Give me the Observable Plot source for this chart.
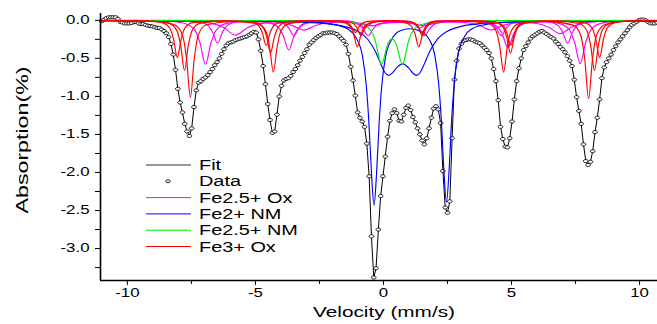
<!DOCTYPE html>
<html><head><meta charset="utf-8">
<script src="https://cdn.jsdelivr.net/npm/d3@7"></script>
<script src="https://cdn.jsdelivr.net/npm/@observablehq/plot@0.6"></script>
<style>
html,body{margin:0;padding:0;background:#fff;}
#chart{width:657px;height:324px;}
</style></head><body><div id="chart"></div>
<script>
// ---- measured spectrum (channels every 0.09 mm/s starting at -11.0 mm/s) ----
const vStart = -11.0, vStep = 0.09;
const absorption = [
-0.01,0.01,0.03,0.04,0.04,0.04,0.04,0.02,-0.02,-0.03,
-0.04,-0.04,-0.04,-0.035,-0.02,-0.02,-0.04,-0.05,-0.05,-0.06,
-0.07,-0.075,-0.08,-0.09,-0.10,-0.10,-0.12,-0.14,-0.17,-0.22,
-0.31,-0.45,-0.65,-0.90,-1.08,-1.21,-1.36,-1.46,-1.52,-1.42,
-1.14,-0.92,-0.82,-0.80,-0.77,-0.75,-0.72,-0.68,-0.64,-0.59,
-0.55,-0.50,-0.44,-0.38,-0.33,-0.30,-0.29,-0.28,-0.26,-0.25,
-0.24,-0.23,-0.22,-0.21,-0.19,-0.17,-0.15,-0.16,-0.25,-0.40,
-0.60,-0.84,-1.10,-1.31,-1.48,-1.46,-1.24,-1.00,-0.86,-0.79,
-0.77,-0.76,-0.73,-0.68,-0.64,-0.59,-0.53,-0.48,-0.43,-0.38,
-0.32,-0.29,-0.26,-0.23,-0.21,-0.19,-0.17,-0.17,-0.16,-0.16,
-0.16,-0.17,-0.18,-0.21,-0.24,-0.27,-0.32,-0.44,-0.61,-0.79,
-0.99,-1.21,-1.28,-1.33,-1.40,-1.62,-2.05,-2.84,-3.38,-3.26,
-2.75,-2.31,-2.05,-1.79,-1.53,-1.32,-1.22,-1.17,-1.22,-1.32,
-1.33,-1.24,-1.15,-1.12,-1.18,-1.27,-1.34,-1.42,-1.50,-1.58,
-1.63,-1.55,-1.42,-1.28,-1.16,-1.13,-1.17,-1.35,-1.98,-2.46,
-2.53,-2.38,-1.55,-0.78,-0.53,-0.37,-0.31,-0.27,-0.26,-0.25,
-0.25,-0.26,-0.28,-0.29,-0.30,-0.33,-0.36,-0.39,-0.43,-0.50,
-0.64,-0.80,-1.05,-1.40,-1.56,-1.66,-1.67,-1.55,-1.33,-1.04,
-0.80,-0.63,-0.50,-0.39,-0.34,-0.29,-0.24,-0.21,-0.19,-0.17,
-0.15,-0.14,-0.16,-0.18,-0.20,-0.22,-0.24,-0.28,-0.31,-0.35,
-0.38,-0.42,-0.47,-0.53,-0.60,-0.78,-1.01,-1.19,-1.36,-1.63,
-1.85,-1.90,-1.86,-1.72,-1.47,-1.28,-1.04,-0.76,-0.62,-0.55,
-0.50,-0.45,-0.39,-0.34,-0.29,-0.25,-0.21,-0.17,-0.13,-0.09,
-0.06,-0.04,-0.02,0.00,0.01,0.01,0.00,-0.02,-0.04,-0.04,
-0.04,-0.03
];

// ---- fitted components, [velocity, absorption] ----
const fe3Ox1 = [[-11.05,-0.003],[-8.74,-0.016],[-8.14,-0.062],[-7.84,-0.204],[-7.69,-0.507],[-7.54,-1.01],[-7.39,-0.507],[-7.24,-0.204],[-6.94,-0.062],[-5.92,-0.015],[-4.9,-0.043],[-4.6,-0.138],[-4.45,-0.342],[-4.3,-0.68],[-4.15,-0.342],[-4.0,-0.138],[-3.7,-0.043],[-2.66,-0.009],[-1.62,-0.023],[-1.32,-0.071],[-1.17,-0.176],[-1.02,-0.35],[-0.87,-0.176],[-0.72,-0.072],[-0.42,-0.023],[0.18,-0.011],[0.78,-0.023],[1.08,-0.072],[1.23,-0.176],[1.38,-0.35],[1.53,-0.176],[1.68,-0.071],[1.98,-0.023],[3.03,-0.008],[4.09,-0.042],[4.39,-0.136],[4.54,-0.34],[4.69,-0.68],[4.84,-0.34],[4.99,-0.137],[5.29,-0.043],[6.35,-0.014],[7.41,-0.063],[7.71,-0.206],[7.86,-0.515],[8.01,-1.03],[8.16,-0.515],[8.31,-0.206],[8.61,-0.061],[9.21,-0.016],[10.7,-0.004]];
const fe3Ox2 = [[-11.05,-0.002],[-8.97,-0.01],[-8.37,-0.04],[-8.07,-0.132],[-7.92,-0.33],[-7.77,-0.66],[-7.62,-0.33],[-7.47,-0.132],[-7.17,-0.04],[-6.09,-0.009],[-5.01,-0.027],[-4.71,-0.088],[-4.56,-0.217],[-4.41,-0.43],[-4.26,-0.217],[-4.11,-0.088],[-3.81,-0.027],[-2.645,-0.005],[-1.48,-0.014],[-1.18,-0.042],[-1.03,-0.101],[-0.88,-0.2],[-0.73,-0.101],[-0.58,-0.042],[-0.28,-0.013],[0.32,-0.006],[0.92,-0.013],[1.22,-0.042],[1.37,-0.101],[1.52,-0.2],[1.67,-0.101],[1.82,-0.042],[2.12,-0.014],[3.24,-0.005],[4.36,-0.027],[4.66,-0.088],[4.81,-0.217],[4.96,-0.43],[5.11,-0.217],[5.26,-0.088],[5.56,-0.027],[6.6,-0.009],[7.64,-0.041],[7.94,-0.134],[8.09,-0.331],[8.24,-0.66],[8.39,-0.33],[8.54,-0.132],[8.84,-0.04],[9.44,-0.01],[10.7,-0.003]];
const fe3Ox3 = [[-11.05,-0.002],[-9.25,-0.008],[-8.65,-0.03],[-8.35,-0.099],[-8.2,-0.246],[-8.05,-0.49],[-7.9,-0.246],[-7.75,-0.099],[-7.45,-0.03],[-6.315,-0.006],[-5.18,-0.021],[-4.88,-0.068],[-4.73,-0.166],[-4.58,-0.33],[-4.43,-0.166],[-4.28,-0.068],[-3.98,-0.021],[-2.84,-0.004],[-1.7,-0.011],[-1.4,-0.033],[-1.25,-0.081],[-1.1,-0.16],[-0.95,-0.081],[-0.8,-0.033],[-0.5,-0.011],[0.2,-0.004],[0.9,-0.011],[1.2,-0.033],[1.35,-0.081],[1.5,-0.16],[1.65,-0.081],[1.8,-0.033],[2.1,-0.011],[3.235,-0.004],[4.37,-0.021],[4.67,-0.068],[4.82,-0.166],[4.97,-0.33],[5.12,-0.166],[5.27,-0.068],[5.57,-0.021],[6.705,-0.006],[7.84,-0.03],[8.14,-0.099],[8.29,-0.246],[8.44,-0.49],[8.59,-0.246],[8.74,-0.099],[9.04,-0.03],[9.64,-0.008],[10.7,-0.003]];
const fe25Ox1 = [[-11.05,-0.004],[-8.45,-0.012],[-7.83,-0.035],[-7.39,-0.117],[-7.17,-0.29],[-6.95,-0.58],[-6.73,-0.29],[-6.51,-0.118],[-6.07,-0.037],[-5.33,-0.018],[-4.58,-0.026],[-4.14,-0.08],[-3.92,-0.196],[-3.7,-0.39],[-3.48,-0.196],[-3.26,-0.08],[-2.82,-0.025],[-2.15,-0.012],[-1.48,-0.016],[-1.04,-0.043],[-0.82,-0.102],[-0.6,-0.2],[-0.38,-0.102],[-0.16,-0.043],[0.5,-0.016],[1.16,-0.043],[1.38,-0.102],[1.6,-0.2],[1.82,-0.102],[2.04,-0.043],[2.48,-0.015],[3.23,-0.01],[3.98,-0.025],[4.42,-0.074],[4.64,-0.181],[4.86,-0.36],[5.08,-0.181],[5.3,-0.075],[5.74,-0.027],[6.27,-0.022],[6.8,-0.036],[7.24,-0.115],[7.46,-0.285],[7.68,-0.57],[7.9,-0.285],[8.12,-0.114],[8.56,-0.034],[9.18,-0.012],[10.7,-0.005]];
const fe25Ox2 = [[-11.05,-0.002],[-7.28,-0.018],[-6.88,-0.06],[-6.68,-0.15],[-6.48,-0.3],[-6.28,-0.15],[-6.08,-0.06],[-5.68,-0.019],[-4.99,-0.009],[-4.3,-0.013],[-3.9,-0.04],[-3.7,-0.1],[-3.5,-0.2],[-3.3,-0.1],[-3.1,-0.04],[-2.7,-0.013],[-2.11,-0.006],[-1.52,-0.007],[-1.12,-0.021],[-0.92,-0.051],[-0.72,-0.1],[-0.52,-0.051],[-0.32,-0.021],[0.355,-0.007],[1.03,-0.021],[1.23,-0.051],[1.43,-0.1],[1.63,-0.051],[1.83,-0.021],[2.23,-0.007],[3.0,-0.005],[3.8,-0.013],[4.2,-0.04],[4.4,-0.1],[4.6,-0.2],[4.8,-0.1],[5.0,-0.04],[5.4,-0.013],[5.9,-0.011],[6.39,-0.019],[6.79,-0.06],[6.99,-0.15],[7.19,-0.3],[7.39,-0.15],[7.59,-0.06],[7.99,-0.018],[10.7,-0.002]];
const fe25Ox3 = [[-11.05,-0.002],[-8.5,-0.006],[-7.5,-0.014],[-6.7,-0.039],[-6.23,-0.098],[-5.78,-0.194],[-5.33,-0.1],[-4.88,-0.046],[-4.44,-0.033],[-3.98,-0.038],[-3.55,-0.07],[-3.1,-0.128],[-2.65,-0.067],[-2.2,-0.032],[-1.77,-0.023],[-1.3,-0.025],[-0.89,-0.04],[-0.44,-0.069],[0.01,-0.04],[0.56,-0.026],[1.11,-0.04],[1.56,-0.069],[2.01,-0.04],[2.45,-0.024],[2.9,-0.023],[3.3,-0.032],[3.75,-0.067],[4.2,-0.127],[4.65,-0.068],[5.1,-0.035],[5.55,-0.03],[6.0,-0.042],[6.45,-0.091],[6.9,-0.174],[7.35,-0.088],[7.8,-0.036],[8.7,-0.011],[10.7,-0.003]];
const fe2NMnarrow = [[-11.05,-0.002],[-5,-0.008],[-3,-0.021],[-2,-0.049],[-1.37,-0.118],[-1.07,-0.23],[-0.82,-0.47],[-0.67,-0.86],[-0.57,-1.34],[-0.47,-2.0],[-0.37,-2.43],[-0.27,-2.01],[-0.17,-1.35],[-0.07,-0.87],[0.08,-0.48],[0.33,-0.245],[0.63,-0.14],[1.045,-0.11],[1.46,-0.145],[1.76,-0.235],[2.01,-0.47],[2.16,-0.85],[2.26,-1.32],[2.36,-1.98],[2.46,-2.39],[2.56,-1.98],[2.66,-1.32],[2.76,-0.84],[2.91,-0.46],[3.16,-0.215],[3.46,-0.11],[3.96,-0.056],[4.96,-0.022],[7,-0.008],[10.7,-0.003]];
const fe2NMbroad = [[-11.05,-0.003],[-6,-0.008],[-4,-0.017],[-3,-0.028],[-2,-0.053],[-1.5,-0.083],[-1,-0.144],[-0.6,-0.255],[-0.3,-0.42],[-0.1,-0.577],[0.05,-0.682],[0.2,-0.724],[0.35,-0.69],[0.5,-0.628],[0.745,-0.572],[1.0,-0.631],[1.15,-0.695],[1.3,-0.723],[1.45,-0.676],[1.6,-0.569],[1.8,-0.414],[2.1,-0.251],[2.5,-0.142],[3,-0.082],[4,-0.037],[6,-0.014],[10.7,-0.004]];
const fe25NM = [[-11.05,0],[-4,-0.003],[-2,-0.011],[-1.2,-0.027],[-0.8,-0.057],[-0.5,-0.134],[-0.35,-0.238],[-0.25,-0.366],[-0.15,-0.526],[-0.08,-0.58],[0,-0.524],[0.1,-0.384],[0.2,-0.285],[0.33,-0.244],[0.46,-0.285],[0.56,-0.384],[0.66,-0.524],[0.74,-0.58],[0.81,-0.526],[0.91,-0.366],[1.01,-0.238],[1.16,-0.134],[1.46,-0.057],[1.86,-0.027],[2.66,-0.011],[4.66,-0.003],[10.7,0]];

// ---- ticks & labels ----
const xMajor = [-10, -5, 0, 5, 10];
const xMinor = [-7.5, -2.5, 2.5, 7.5];
const yMajor = [-3, -2.5, -2, -1.5, -1, -0.5, 0];
const yMinor = [-3.25, -2.75, -2.25, -1.75, -1.25, -0.75, -0.25];
const legendLabels = ["Fit", "Data", "Fe2.5+ Ox", "Fe2+ NM", "Fe2.5+ NM", "Fe3+ Ox"];
const xTitle = "Velocity (mm/s)";
const yTitle = "Absorption(%)";

// ---- build ----
const MAG = "#ff00ff", BLUE = "#0000ff", GREEN = "#00ee00", RED = "#ff0000";
const rows = absorption.map((a, i) => ({v: vStart + i * vStep, a}));
const fmtY = d => (d < 0 ? "-" : "") + Math.abs(d).toFixed(1);
const fmtX = d => (d < 0 ? "-" : "") + Math.abs(d);

const ellipse = {draw(ctx) {
  const rx = 2.4, ry = 1.55, k = 0.5523;
  ctx.moveTo(rx, 0);
  ctx.bezierCurveTo(rx, ry * k, rx * k, ry, 0, ry);
  ctx.bezierCurveTo(-rx * k, ry, -rx, ry * k, -rx, 0);
  ctx.bezierCurveTo(-rx, -ry * k, -rx * k, -ry, 0, -ry);
  ctx.bezierCurveTo(rx * k, -ry, rx, -ry * k, rx, 0);
  ctx.closePath();
}};

const comp = (data, color) => Plot.line(data, {x: d => d[0], y: d => d[1], stroke: color, strokeWidth: 1.15, curve: "monotone-x"});

const plot = Plot.plot({
  width: 657, height: 324,
  marginTop: 13, marginRight: 0, marginBottom: 44, marginLeft: 100,
  style: {fontFamily: "'Liberation Sans', Arial, sans-serif", fontSize: "12px", background: "white", color: "black"},
  x: {domain: [-11.05, 10.70]},
  y: {domain: [-3.42, 0.09]},
  marks: [
    Plot.axisX(xMajor, {tickSize: 5, tickPadding: 3, tickFormat: fmtX, label: null}),
    Plot.axisX(xMinor, {tickSize: 4, tickFormat: () => "", label: null}),
    Plot.axisY(yMajor, {anchor: "left", tickSize: 5, tickPadding: 6, tickFormat: fmtY, label: null}),
    Plot.axisY(yMinor, {anchor: "left", tickSize: 5, tickFormat: () => "", label: null}),
    Plot.line(rows, {x: "v", y: "a", stroke: "black", strokeWidth: 1}),
    Plot.dot(rows, {x: "v", y: "a", symbol: ellipse, fill: "white", stroke: "black", strokeWidth: 0.9}),
    comp(fe25Ox3, MAG), comp(fe25Ox2, MAG), comp(fe25Ox1, MAG),
    comp(fe2NMbroad, BLUE), comp(fe2NMnarrow, BLUE),
    comp(fe25NM, GREEN),
    comp(fe3Ox3, RED), comp(fe3Ox2, RED), comp(fe3Ox1, RED),
    Plot.ruleX([-11.05], {strokeWidth: 1.6}),
    Plot.ruleY([-3.42], {strokeWidth: 1.6})
  ]
});
document.getElementById("chart").append(plot);

// widen tick labels to the reference's wide lettering
d3.select(plot).selectAll('g[aria-label$="tick label"] text').each(function() {
  const L = this.getComputedTextLength();
  if (L > 0) { this.setAttribute("textLength", (L * 1.4).toFixed(1)); this.setAttribute("lengthAdjust", "spacingAndGlyphs"); }
});

const svg = d3.select(plot);
const font = "'Liberation Sans', Arial, sans-serif";
// axis titles
const xt = svg.append("text").attr("x", 384).attr("y", 317).attr("text-anchor", "middle")
  .attr("font-family", font).attr("font-size", 15).attr("fill", "black").text(xTitle);
xt.attr("textLength", 142).attr("lengthAdjust", "spacingAndGlyphs");
const yt = svg.append("text").attr("transform", "translate(28,140) rotate(-90)").attr("text-anchor", "middle")
  .attr("font-family", font).attr("font-size", 17).attr("fill", "black").text(yTitle);
yt.attr("textLength", 147).attr("lengthAdjust", "spacingAndGlyphs");

// legend
const legendStyles = [
  {kind: "line", color: "#333"}, {kind: "dot"}, {kind: "line", color: MAG},
  {kind: "line", color: BLUE}, {kind: "line", color: GREEN}, {kind: "line", color: RED}
];
const lg = svg.append("g").attr("text-anchor", "start");
legendLabels.forEach((lab, i) => {
  const y = 165 + i * 16.3;
  const st = legendStyles[i];
  if (st.kind === "line") {
    lg.append("line").attr("x1", 146).attr("x2", 191).attr("y1", y).attr("y2", y)
      .attr("stroke", st.color).attr("stroke-width", 1);
  } else {
    lg.append("ellipse").attr("cx", 168).attr("cy", y).attr("rx", 2.2).attr("ry", 1.5)
      .attr("fill", "white").attr("stroke", "black").attr("stroke-width", 0.9);
  }
  const t = lg.append("text").attr("x", 199).attr("y", y).attr("dy", "0.36em").attr("text-anchor", "start")
    .attr("font-family", font).attr("font-size", 14).attr("fill", "black").text(lab);
  const L = t.node().getComputedTextLength();
  t.attr("textLength", (L * 1.42).toFixed(1)).attr("lengthAdjust", "spacingAndGlyphs");
});
</script>
</body></html>
